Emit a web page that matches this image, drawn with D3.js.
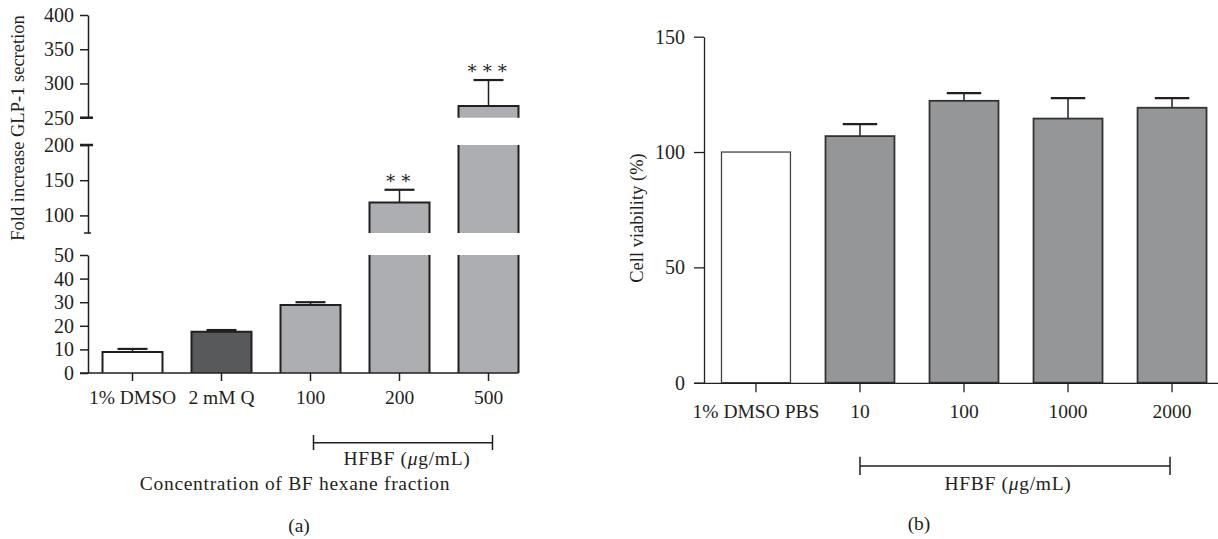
<!DOCTYPE html>
<html>
<head>
<meta charset="utf-8">
<script src="https://d3js.org/d3.v7.min.js"></script>
<style>
  body { margin: 0; background: #fff; }
  svg text { font-family: "Liberation Serif", "DejaVu Serif", serif; fill: #231f20; }
</style>
</head>
<body>
<svg id="chart" width="1218" height="539"></svg>
<script>
// panel (a): GLP-1 secretion
const catsA = ["1% DMSO", "2 mM Q", "100", "200", "500"];
const valsA = [8.9, 17.5, 28.8, 118.4, 267];
const errsA = [1.3, 0.7, 1.2, 18, 38];
const fillsA = ["#ffffff", "#58595b", "#adaeb1", "#adaeb1", "#adaeb1"];
const starsA = ["", "", "", "∗∗", "∗∗∗"];
// broken axis pieces: [lo, hi] and ticks
const segDomains = [[0, 50], [75, 200], [250, 400]];
const segTicks = [[0, 10, 20, 30, 40, 50], [100, 150, 200], [250, 300, 350, 400]];

// panel (b): cell viability
const catsB = ["1% DMSO PBS", "10", "100", "1000", "2000"];
const valsB = [100, 106.9, 122.2, 114.5, 119.2];
const errsB = [0, 5.2, 3.3, 8.9, 4.2];
const fillsB = ["#ffffff", "#959698", "#959698", "#959698", "#959698"];
const ticksB = [0, 50, 100, 150];

const svg = d3.select("#chart");
const ink = "#231f20";
const fs = 19.5;   // category / caption text
const fsTick = 20; // numbers on y axes
const fsY = 18.5;  // rotated axis titles

// ---------- panel (a) ----------
const gA = svg.append("g");
const segRanges = [[373, 255], [233, 145], [117.7, 15]];
const segs = segDomains.map((d, i) => d3.scaleLinear().domain(d).range(segRanges[i]));

const xA = d3.scaleBand().domain(catsA).range([88, 533]).paddingInner(0.326).paddingOuter(0.163);

// bars, piece by piece
catsA.forEach((c, i) => {
  const v = valsA[i];
  const x0 = xA(c), x1 = x0 + xA.bandwidth();
  segs.forEach((s, k) => {
    const [lo, hi] = s.domain();
    if (v <= lo) return;
    const top = s(Math.min(v, hi)), bot = s(lo);
    gA.append("rect").attr("x", x0).attr("y", top).attr("width", x1 - x0).attr("height", bot - top)
      .attr("fill", fillsA[i]);
    let p = `M${x0},${bot}V${top}`;
    if (v <= hi) p += `H${x1}`; else p += `M${x1},${top}`;
    p += `V${bot}`;
    gA.append("path").attr("d", p).attr("fill", "none").attr("stroke", ink).attr("stroke-width", 2);
    if (v <= hi) {
      const cx = (x0 + x1) / 2, ye = s(v + errsA[i]);
      const hw = xA.bandwidth() / 4;
      gA.append("line").attr("x1", cx).attr("x2", cx).attr("y1", top).attr("y2", ye).attr("stroke", ink).attr("stroke-width", 1.5);
      gA.append("line").attr("x1", cx - hw).attr("x2", cx + hw).attr("y1", ye).attr("y2", ye).attr("stroke", ink).attr("stroke-width", 2.2);
      if (starsA[i]) {
        gA.append("text").attr("x", cx).attr("y", ye - 6).attr("text-anchor", "middle")
          .attr("font-size", 18).attr("letter-spacing", 3).text(starsA[i]);
      }
    }
  });
});

// y axis pieces
segs.forEach((s, k) => {
  const ax = gA.append("g").attr("transform", "translate(88,0)")
    .call(d3.axisLeft(s).tickValues(segTicks[k]).tickSize(8).tickSizeOuter(0).tickPadding(6));
  ax.select(".domain").attr("stroke", ink).attr("stroke-width", 1.5);
  ax.selectAll(".tick line").attr("stroke", ink).attr("stroke-width", 1.5);
  ax.selectAll("text").attr("font-size", fsTick).attr("font-family", null);
});
// break marks
[segs[2](250), segs[1](200)].forEach(y => {
  gA.append("line").attr("x1", 80).attr("x2", 93).attr("y1", y).attr("y2", y).attr("stroke", ink).attr("stroke-width", 2.5);
});
gA.append("line").attr("x1", 84).attr("x2", 91).attr("y1", segs[1](75)).attr("y2", segs[1](75)).attr("stroke", ink).attr("stroke-width", 1.5);

// x axis
const axA = gA.append("g").attr("transform", "translate(0,373)")
  .call(d3.axisBottom(xA).tickSize(8).tickSizeOuter(0).tickPadding(9));
axA.select(".domain").remove();
axA.selectAll(".tick line").attr("stroke", ink).attr("stroke-width", 1.5);
axA.selectAll("text").attr("font-size", fs).attr("font-family", null);
gA.append("line").attr("x1", 80).attr("x2", xA("500") + xA.bandwidth()).attr("y1", 373).attr("y2", 373)
  .attr("stroke", ink).attr("stroke-width", 1.5);

// bracket + labels
const bA = [xA("100") + xA.bandwidth() / 2 + 3, xA("500") + xA.bandwidth() / 2 + 4];
gA.append("path").attr("d", `M${bA[0]},435V450M${bA[0]},442.7H${bA[1]}M${bA[1]},435V450`)
  .attr("fill", "none").attr("stroke", ink).attr("stroke-width", 1.5);
gA.append("text").attr("x", 407).attr("y", 465).attr("text-anchor", "middle").attr("font-size", fs)
  .attr("letter-spacing", 0.7).html('HFBF (<tspan font-style="italic">μ</tspan>g/mL)');
gA.append("text").attr("x", 295).attr("y", 490).attr("text-anchor", "middle").attr("font-size", fs)
  .attr("letter-spacing", 0.7).text("Concentration of BF hexane fraction");
gA.append("text").attr("x", 299).attr("y", 532).attr("text-anchor", "middle").attr("font-size", 19.5).text("(a)");
gA.append("text").attr("transform", "translate(24,128) rotate(-90)").attr("text-anchor", "middle")
  .attr("font-size", fsY).text("Fold increase GLP-1 secretion");

// ---------- panel (b) ----------
const gB = svg.append("g");
const yB = d3.scaleLinear().domain([0, 150]).range([382.7, 36.7]);
const xB = d3.scaleBand().domain(catsB).range([704, 1224]).paddingInner(0.337).paddingOuter(0.168);

catsB.forEach((c, i) => {
  const x0 = xB(c), w = xB.bandwidth(), cx = x0 + w / 2;
  if (errsB[i] > 0) {
    const ye = yB(valsB[i] + errsB[i]);
    gB.append("line").attr("x1", cx).attr("x2", cx).attr("y1", yB(valsB[i])).attr("y2", ye).attr("stroke", ink).attr("stroke-width", 1.5);
    gB.append("line").attr("x1", cx - w / 4).attr("x2", cx + w / 4).attr("y1", ye).attr("y2", ye).attr("stroke", ink).attr("stroke-width", 2.2);
  }
  gB.append("rect").attr("x", x0).attr("y", yB(valsB[i])).attr("width", w).attr("height", yB(0) - yB(valsB[i]))
    .attr("fill", fillsB[i]).attr("stroke", i === 0 ? "#444" : "#333").attr("stroke-width", i === 0 ? 1.3 : 1.8);
});

const ayB = gB.append("g").attr("transform", "translate(704,0)")
  .call(d3.axisLeft(yB).tickValues(ticksB).tickSize(10).tickSizeOuter(0).tickPadding(9));
ayB.select(".domain").attr("stroke", ink).attr("stroke-width", 1.3);
ayB.selectAll(".tick line").attr("stroke", ink).attr("stroke-width", 1.3);
ayB.selectAll("text").attr("font-size", fsTick).attr("font-family", null);

const axB = gB.append("g").attr("transform", "translate(0,383.3)")
  .call(d3.axisBottom(xB).tickSize(9).tickSizeOuter(0).tickPadding(12));
axB.select(".domain").remove();
axB.selectAll(".tick line").attr("stroke", ink).attr("stroke-width", 1.3);
axB.selectAll("text").attr("font-size", fs).attr("font-family", null);
gB.append("line").attr("x1", 694).attr("x2", 1218).attr("y1", 383.3).attr("y2", 383.3)
  .attr("stroke", ink).attr("stroke-width", 1.3);

const bB = [xB("10") + xB.bandwidth() / 2, xB("2000") + xB.bandwidth() / 2 - 2];
gB.append("path").attr("d", `M${bB[0]},456.7V475M${bB[0]},466H${bB[1]}M${bB[1]},456.7V475`)
  .attr("fill", "none").attr("stroke", ink).attr("stroke-width", 1.5);
gB.append("text").attr("x", 1008).attr("y", 490).attr("text-anchor", "middle").attr("font-size", fs)
  .attr("letter-spacing", 0.7).html('HFBF (<tspan font-style="italic">μ</tspan>g/mL)');
gB.append("text").attr("x", 919).attr("y", 530).attr("text-anchor", "middle").attr("font-size", 19.5).text("(b)");
gB.append("text").attr("transform", "translate(643,218) rotate(-90)").attr("text-anchor", "middle")
  .attr("font-size", fsY).text("Cell viability (%)");
</script>
</body>
</html>
